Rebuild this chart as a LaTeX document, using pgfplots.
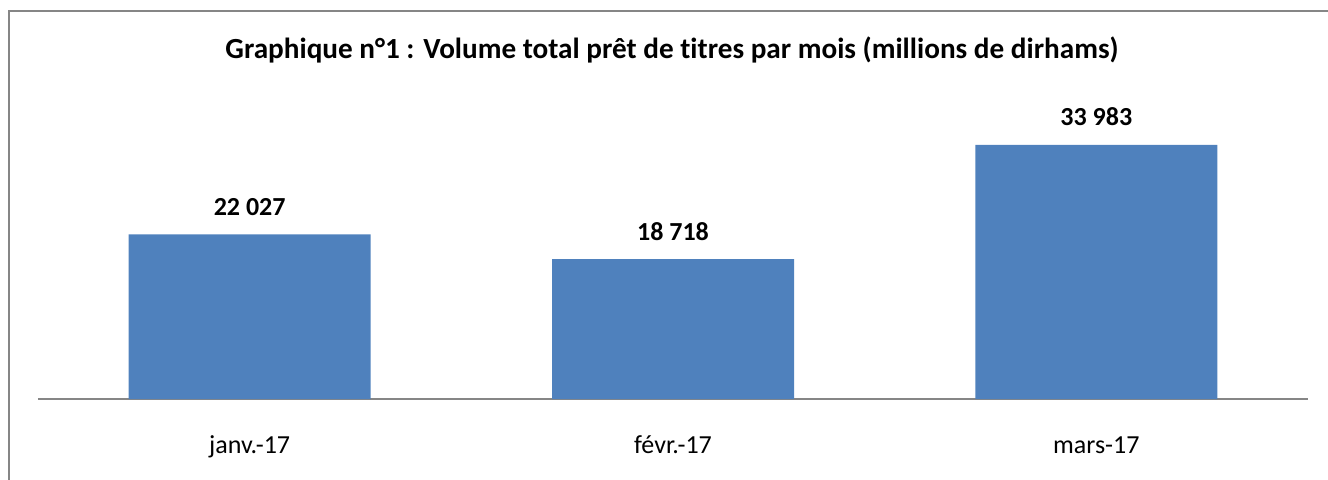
\documentclass[border=0pt]{standalone}
\usepackage{fontspec}
\setmainfont[Ligatures=NoCommon]{Carlito}
\usepackage{pgfplots}
\pgfplotsset{compat=1.18}
\definecolor{barblue}{HTML}{4F81BD}
\definecolor{framegray}{HTML}{868686}

\begin{document}
\begin{tikzpicture}
% outer frame (only top and left edges fall inside the picture)
\draw[framegray, line width=1pt] (4.25pt,-10pt) -- (4.25pt,234.25pt) -- (700pt,234.25pt);

\node[anchor=base, font=\fontsize{14.6pt}{17pt}\selectfont\bfseries] at (336pt,210.5pt)
  {Graphique n°1 : Volume total prêt de titres par mois (millions de dirhams)};

\begin{axis}[
    at={(19pt,40pt)}, anchor=south west,
    scale only axis,
    width=635pt, height=149.5pt,
    ybar, bar width=121pt, bar shift=0pt,
    xmin=-0.5, xmax=2.5, ymin=0, ymax=40000,
    enlargelimits=false,
    axis x line*=bottom, axis y line=none,
    x axis line style={framegray, line width=1pt},
    xtick=data, xticklabels={janv.-17, févr.-17, mars-17},
    xtick style={draw=none}, major tick length=0pt,
    xticklabel style={anchor=base, yshift=-27pt, font=\fontsize{13pt}{15pt}\selectfont},
    /pgf/number format/assume math mode=true,
    point meta=explicit symbolic,
    nodes near coords,
    every node near coord/.append style={anchor=base, yshift=9.5pt,
      font=\fontsize{13pt}{15pt}\selectfont\bfseries, text=black},
    clip=false,
]
\addplot[fill=barblue, draw=none] coordinates {
    (0,22027) [22 027]
    (1,18718) [18 718]
    (2,33983) [33 983]
};
\end{axis}
\pgfresetboundingbox
\path[use as bounding box] (0,0) rectangle (664pt,239.5pt);
\end{tikzpicture}
\end{document}
